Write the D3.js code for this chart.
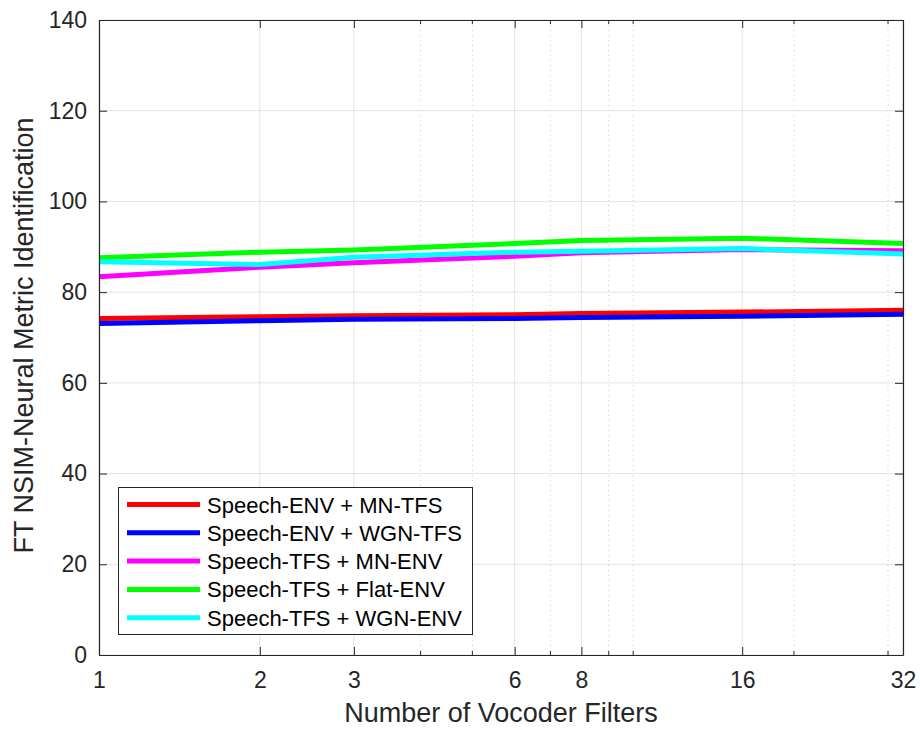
<!DOCTYPE html>
<html><head><meta charset="utf-8">
<script src="https://cdn.jsdelivr.net/npm/d3@7"></script>
<style>body{margin:0;background:#fff;} svg{display:block;font-family:"Liberation Sans",Arial,Helvetica,sans-serif;}</style>
</head><body>
<svg id="chart" width="920" height="730"></svg>
<script>
const filters = [1, 2, 3, 6, 8, 16, 32];
const xTickLabels = ["1", "2", "3", "6", "8", "16", "32"];
const minorTicks = [4, 5, 7, 9, 10, 20, 30];
const yTicks = [0, 20, 40, 60, 80, 100, 120, 140];
const seriesNames = ["Speech-ENV + MN-TFS", "Speech-ENV + WGN-TFS", "Speech-TFS + MN-ENV", "Speech-TFS + Flat-ENV", "Speech-TFS + WGN-ENV"];
const seriesColors = ["#ff0000", "#0000ff", "#ff00ff", "#00ff00", "#00ffff"];
const envMN  = [74.2, 74.6, 74.8, 75.0, 75.3, 75.6, 76.0];
const envWGN = [73.1, 73.7, 74.0, 74.2, 74.4, 74.7, 75.1];
const tfsMN  = [83.4, 85.5, 86.5, 87.9, 88.7, 89.4, 89.1];
const tfsFlat= [87.6, 88.8, 89.3, 90.7, 91.4, 91.9, 90.7];
const tfsWGN = [86.7, 86.1, 87.7, 88.8, 89.0, 89.6, 88.4];
const seriesValues = [envMN, envWGN, tfsMN, tfsFlat, tfsWGN];

const svg = d3.select("#chart");
const L = 99, R = 903, T = 20, B = 655;
const x = d3.scaleLog().base(2).domain([1, 32]).range([L, R]);
const y = d3.scaleLinear().domain([0, 140]).range([B, T]);
const axisCol = "#262626";
const FONT = "'Liberation Sans',Arial,Helvetica,sans-serif";

// grid
const g = svg.append("g");
g.selectAll(".mg").data(minorTicks).enter().append("line")
  .attr("x1", d => x(d)).attr("x2", d => x(d)).attr("y1", T).attr("y2", B)
  .attr("stroke", "#c8c8c8").attr("stroke-width", 1).attr("stroke-dasharray", "1,4");
g.selectAll(".xg").data(filters).enter().append("line")
  .attr("x1", d => x(d)).attr("x2", d => x(d)).attr("y1", T).attr("y2", B)
  .attr("stroke", "#e3e3e3").attr("stroke-width", 1);
g.selectAll(".yg").data(yTicks).enter().append("line")
  .attr("x1", L).attr("x2", R).attr("y1", d => y(d)).attr("y2", d => y(d))
  .attr("stroke", "#e3e3e3").attr("stroke-width", 1);

// lines
const line = d3.line().x((d, i) => x(filters[i])).y(d => y(d));
seriesValues.forEach((vals, k) => {
  svg.append("path").datum(vals).attr("d", line).attr("fill", "none")
    .attr("stroke", seriesColors[k]).attr("stroke-width", 5).attr("stroke-linejoin", "round");
});

// axes
const xAxis = d3.axisBottom(x).tickValues(filters).tickFormat((d, i) => xTickLabels[i]).tickSizeInner(-8).tickSizeOuter(0).tickPadding(17);
const xa = svg.append("g").attr("transform", `translate(0,${B})`).call(xAxis);
const yAxis = d3.axisLeft(y).tickValues(yTicks).tickSizeInner(-8).tickSizeOuter(0).tickPadding(12);
const ya = svg.append("g").attr("transform", `translate(${L},0)`).call(yAxis);
[xa, ya].forEach(a => {
  a.attr("font-family", FONT).attr("font-size", 23);
  a.select(".domain").attr("stroke", axisCol).attr("stroke-width", 1.2);
  a.selectAll(".tick line").attr("stroke", axisCol);
  a.selectAll("text").attr("fill", axisCol);
});
// top and right axes (box)
const xTop = d3.axisTop(x).tickValues(filters).tickFormat("").tickSizeInner(-8).tickSizeOuter(0);
const xt = svg.append("g").attr("transform", `translate(0,${T})`).call(xTop);
const yRight = d3.axisRight(y).tickValues(yTicks).tickFormat("").tickSizeInner(-8).tickSizeOuter(0);
const yr = svg.append("g").attr("transform", `translate(${R},0)`).call(yRight);
[xt, yr].forEach(a => {
  a.select(".domain").attr("stroke", axisCol).attr("stroke-width", 1.2);
  a.selectAll(".tick line").attr("stroke", axisCol);
});
// minor ticks on bottom and top
[[B, -4], [T, 4]].forEach(([yy, len]) => {
  svg.selectAll(null).data(minorTicks).enter().append("line")
    .attr("x1", d => x(d)).attr("x2", d => x(d)).attr("y1", yy).attr("y2", yy + len)
    .attr("stroke", axisCol).attr("stroke-width", 1);
});

// axis labels
svg.append("text").attr("x", (L + R) / 2).attr("y", 722).attr("text-anchor", "middle")
  .attr("fill", axisCol).attr("font-family", FONT).attr("font-size", 27).text("Number of Vocoder Filters");
svg.append("text").attr("transform", `translate(33,335.5) rotate(-90)`).attr("text-anchor", "middle")
  .attr("fill", axisCol).attr("font-family", FONT).attr("font-size", 27).text("FT NSIM-Neural Metric Identification");

// legend
const lg = svg.append("g");
lg.append("rect").attr("x", 118.5).attr("y", 487.5).attr("width", 354).attr("height", 147)
  .attr("fill", "#fff").attr("stroke", axisCol).attr("stroke-width", 1);
seriesNames.forEach((name, k) => {
  const yy = 504.5 + k * 28.3;
  lg.append("line").attr("x1", 127).attr("x2", 200).attr("y1", yy).attr("y2", yy)
    .attr("stroke", seriesColors[k]).attr("stroke-width", 5);
  lg.append("text").attr("x", 207).attr("y", yy + 8).attr("fill", "#000")
    .attr("font-family", FONT).attr("font-size", 22).text(name);
});
</script>
</body></html>
